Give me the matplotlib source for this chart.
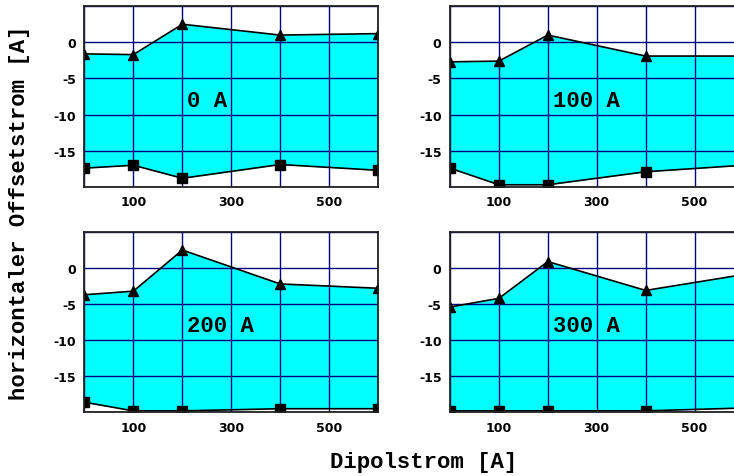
import matplotlib.pyplot as plt

# Dipolstrom values where the offset current was measured
dipol = [0, 100, 200, 400, 600]

# Upper (triangles) and lower (squares) limit of the horizontal offset current
panels = ['0 A', '100 A', '200 A', '300 A']
upper = [
    [-1.6, -1.7, 2.5, 1.0, 1.2],
    [-2.7, -2.6, 1.0, -1.9, -1.9],
    [-3.7, -3.2, 2.5, -2.2, -2.8],
    [-5.4, -4.2, 0.9, -3.1, -0.9],
]
lower = [
    [-17.4, -17.0, -18.8, -16.9, -17.7],
    [-17.4, -19.7, -19.7, -17.9, -17.0],
    [-18.6, -19.8, -19.8, -19.5, -19.5],
    [-19.8, -19.8, -19.8, -19.8, -19.4],
]

xticks = [0, 100, 200, 300, 400, 500, 600]
xticklabels = ['', '100', '', '300', '', '500', '']
yticks = [-20, -15, -10, -5, 0, 5]
yticklabels = ['', '-15', '-10', '-5', '0', '']

mono = 'Liberation Mono'
fig = plt.figure(figsize=(7.34, 4.77), dpi=100)

# axes boxes (left, bottom, width, height); right column runs past the figure edge
boxes = [
    (0.1151, 0.606, 0.400, 0.379),
    (0.613, 0.606, 0.400, 0.379),
    (0.1151, 0.1335, 0.400, 0.378),
    (0.613, 0.1335, 0.400, 0.378),
]

for box, name, up, lo in zip(boxes, panels, upper, lower):
    ax = fig.add_axes(box)
    ax.fill_between(dipol, lo, up, color='#00ffff', linewidth=0)
    ax.plot(dipol, up, color='black', lw=1.2, marker='^', ms=7.5)
    ax.plot(dipol, lo, color='black', lw=1.2, marker='s', ms=6.5)
    ax.set_xlim(0, 600)
    ax.set_ylim(-20, 5)
    ax.set_xticks(xticks)
    ax.set_xticklabels(xticklabels)
    ax.set_yticks(yticks)
    ax.set_yticklabels(yticklabels)
    ax.tick_params(length=0, pad=6, labelsize=9)
    for lab in ax.get_xticklabels() + ax.get_yticklabels():
        lab.set_fontweight('bold')
    ax.grid(True, color='#000080', lw=1)
    for sp in ax.spines.values():
        sp.set_linewidth(1.3)
        sp.set_color('#222222')
    ax.text(210, -8, name, ha='left', va='center', family=mono,
            fontweight='bold', fontsize=16)

fig.text(0.577, 0.03, 'Dipolstrom [A]', ha='center', va='center',
         family=mono, fontweight='bold', fontsize=16)
fig.text(0.027, 0.553, 'horizontaler Offsetstrom [A]', ha='center', va='center',
         rotation=90, family=mono, fontweight='bold', fontsize=16)

fig.savefig('out.png', dpi=100)
